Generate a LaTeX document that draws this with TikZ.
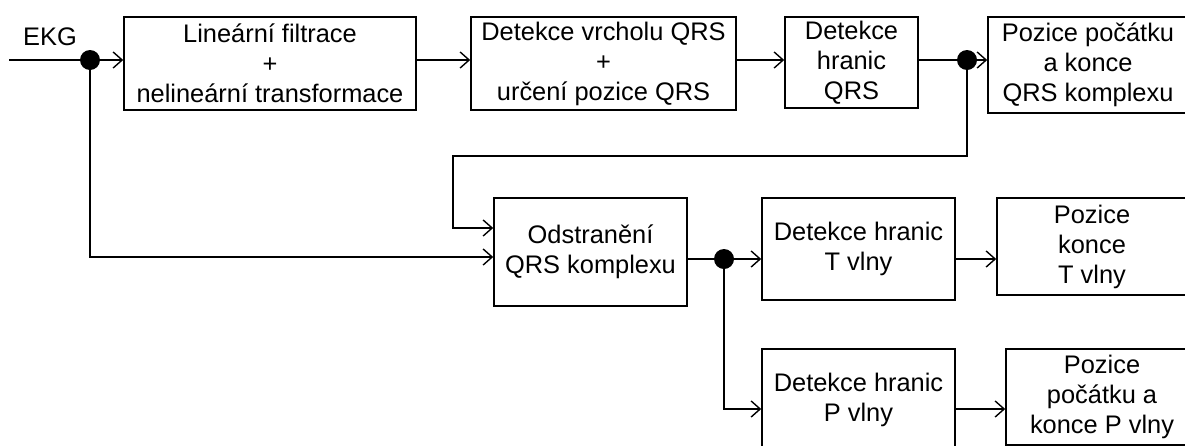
\documentclass[tikz,border=0pt]{standalone}
\usepackage{fontspec}
\setmainfont{Liberation Sans}
\usetikzlibrary{arrows.meta}
\begin{document}
\begin{tikzpicture}[x=1pt,y=-1pt,
  line width=1.6pt,
  every node/.style={font=\fontsize{25.4}{30}\selectfont},
  blk/.style={draw, line width=1.6pt, inner sep=0pt, align=center},
  jdot/.style={circle, fill=black, minimum size=20pt, inner sep=0pt},
  arr/.style={-{Straight Barb[length=9pt,width=16pt,line width=1.4pt]}}]
\useasboundingbox (0,0) rectangle (1185,445);
\clip (0,0) rectangle (1185,445);
% blocks
\node[blk, minimum width=292pt, minimum height=93pt] (b1) at (270,63.5)
  {Lineární filtrace\\+\\nelineární transformace};
\node[blk, minimum width=265pt, minimum height=93pt] (b2) at (603.5,63.5)
  {Detekce vrcholu QRS\\+\\určení pozice QRS};
\node[blk, minimum width=133pt, minimum height=91pt] (b3) at (851.5,62.5)
  {Detekce\\hranic\\QRS};
\node[blk, minimum width=200pt, minimum height=96pt] (b4) at (1088,65)
  {Pozice počátku\\a konce\\QRS komplexu};
\node[blk, minimum width=193pt, minimum height=108pt] (b5) at (590.5,252)
  {Odstranění\\QRS komplexu};
\node[blk, minimum width=193pt, minimum height=102pt] (bT) at (858.5,249)
  {Detekce hranic\\T vlny};
\node[blk, minimum width=190pt, minimum height=97pt] (bTT) at (1092,246.5)
  {Pozice\\konce\\T vlny};
\node[blk, minimum width=193pt, minimum height=101pt] (bP) at (858.5,399.5)
  {Detekce hranic\\P vlny};
\node[blk, minimum width=192pt, minimum height=96pt] (bPP) at (1102,397)
  {Pozice\\počátku a\\konce P vlny};
% input
\node (ekg) at (50,37) {EKG};
\coordinate (in) at (9,60);
\coordinate (c1) at (90,257);
\coordinate (fb1) at (967,156);
\coordinate (fb2) at (453,156);
\coordinate (fb3) at (453,228);
\coordinate (c2) at (724,409);
% connectors
\draw (in) -- (90,60) coordinate (p1);
\draw[arr] (p1) -- (p1 -| b1.west);
\draw[arr] (b1.east |- p1) -- (b2.west |- p1);
\draw[arr] (b2.east |- p1) -- (b3.west |- p1);
\draw (b3.east |- p1) -- (967,60) coordinate (p3);
\draw[arr] (p3) -- (p3 -| b4.west);
\draw[arr] (p3) -- (fb1) -- (fb2) -- (fb3) -- (fb3 -| b5.west);
\draw[arr] (p1) -- (c1) -- (c1 -| b5.west);
\draw (b5.east |- 0,259) -- (724,259) coordinate (p2);
\draw[arr] (p2) -- (p2 -| bT.west);
\draw[arr] (bT.east |- p2) -- (bTT.west |- p2);
\draw[arr] (p2) -- (c2) -- (c2 -| bP.west);
\draw[arr] (bP.east |- c2) -- (bPP.west |- c2);
% junction dots
\node[jdot] (d1) at (p1) {};
\node[jdot] (d3) at (p3) {};
\node[jdot] (d2) at (p2) {};
\end{tikzpicture}
\end{document}
